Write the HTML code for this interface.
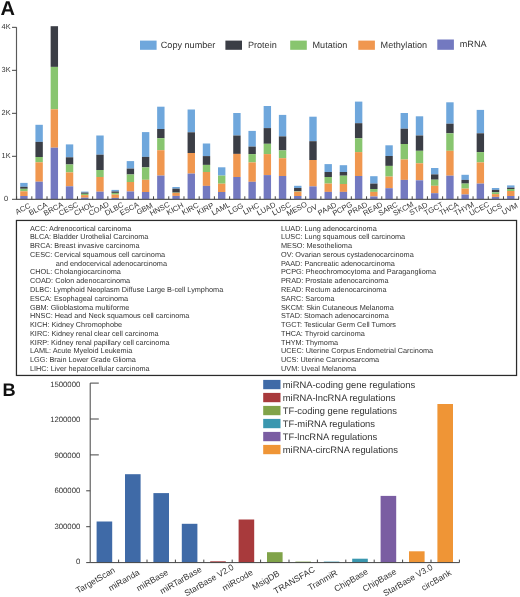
<!DOCTYPE html><html><head><meta charset="utf-8"><style>html,body{margin:0;padding:0;background:#fff;}svg{display:block;will-change:transform;}text{font-family:"Liberation Sans",sans-serif;fill:#333;text-rendering:geometricPrecision;}</style></head><body>
<svg width="520" height="597" viewBox="0 0 520 597">
<rect width="520" height="597" fill="#fff"/>
<text x="0.6" y="14.6" style="font-size:20px;font-weight:bold;fill:#111">A</text>
<rect x="20.21" y="182.90" width="7.4" height="3.90" fill="#6fa7dc"/>
<rect x="20.21" y="186.80" width="7.4" height="2.00" fill="#3b3e46"/>
<rect x="20.21" y="188.80" width="7.4" height="2.50" fill="#88c56f"/>
<rect x="20.21" y="191.30" width="7.4" height="4.70" fill="#f0974f"/>
<rect x="20.21" y="196.00" width="7.4" height="3.30" fill="#7379c0"/>
<rect x="35.42" y="124.80" width="7.4" height="17.10" fill="#6fa7dc"/>
<rect x="35.42" y="141.90" width="7.4" height="15.10" fill="#3b3e46"/>
<rect x="35.42" y="157.00" width="7.4" height="5.30" fill="#88c56f"/>
<rect x="35.42" y="162.30" width="7.4" height="19.40" fill="#f0974f"/>
<rect x="35.42" y="181.70" width="7.4" height="17.60" fill="#7379c0"/>
<rect x="50.64" y="26.20" width="7.4" height="40.70" fill="#3b3e46"/>
<rect x="50.64" y="66.90" width="7.4" height="42.40" fill="#88c56f"/>
<rect x="50.64" y="109.30" width="7.4" height="38.40" fill="#f0974f"/>
<rect x="50.64" y="147.70" width="7.4" height="51.60" fill="#7379c0"/>
<rect x="65.85" y="144.40" width="7.4" height="12.90" fill="#6fa7dc"/>
<rect x="65.85" y="157.30" width="7.4" height="7.20" fill="#3b3e46"/>
<rect x="65.85" y="164.50" width="7.4" height="7.90" fill="#88c56f"/>
<rect x="65.85" y="172.40" width="7.4" height="13.90" fill="#f0974f"/>
<rect x="65.85" y="186.30" width="7.4" height="13.00" fill="#7379c0"/>
<rect x="81.07" y="191.60" width="7.4" height="1.00" fill="#6fa7dc"/>
<rect x="81.07" y="192.60" width="7.4" height="1.20" fill="#3b3e46"/>
<rect x="81.07" y="193.80" width="7.4" height="1.30" fill="#88c56f"/>
<rect x="81.07" y="195.10" width="7.4" height="2.60" fill="#f0974f"/>
<rect x="81.07" y="197.70" width="7.4" height="1.60" fill="#7379c0"/>
<rect x="96.28" y="135.50" width="7.4" height="19.20" fill="#6fa7dc"/>
<rect x="96.28" y="154.70" width="7.4" height="15.30" fill="#3b3e46"/>
<rect x="96.28" y="170.00" width="7.4" height="7.00" fill="#88c56f"/>
<rect x="96.28" y="177.00" width="7.4" height="14.70" fill="#f0974f"/>
<rect x="96.28" y="191.70" width="7.4" height="7.60" fill="#7379c0"/>
<rect x="111.50" y="189.90" width="7.4" height="1.60" fill="#6fa7dc"/>
<rect x="111.50" y="191.50" width="7.4" height="1.40" fill="#3b3e46"/>
<rect x="111.50" y="192.90" width="7.4" height="1.70" fill="#88c56f"/>
<rect x="111.50" y="194.60" width="7.4" height="3.30" fill="#f0974f"/>
<rect x="111.50" y="197.90" width="7.4" height="1.40" fill="#7379c0"/>
<rect x="126.71" y="161.10" width="7.4" height="7.50" fill="#6fa7dc"/>
<rect x="126.71" y="168.60" width="7.4" height="5.90" fill="#3b3e46"/>
<rect x="126.71" y="174.50" width="7.4" height="7.50" fill="#88c56f"/>
<rect x="126.71" y="182.00" width="7.4" height="9.50" fill="#f0974f"/>
<rect x="126.71" y="191.50" width="7.4" height="7.80" fill="#7379c0"/>
<rect x="141.93" y="132.10" width="7.4" height="24.80" fill="#6fa7dc"/>
<rect x="141.93" y="156.90" width="7.4" height="10.50" fill="#3b3e46"/>
<rect x="141.93" y="167.40" width="7.4" height="12.40" fill="#88c56f"/>
<rect x="141.93" y="179.80" width="7.4" height="12.20" fill="#f0974f"/>
<rect x="141.93" y="192.00" width="7.4" height="7.30" fill="#7379c0"/>
<rect x="157.14" y="106.70" width="7.4" height="22.30" fill="#6fa7dc"/>
<rect x="157.14" y="129.00" width="7.4" height="9.20" fill="#3b3e46"/>
<rect x="157.14" y="138.20" width="7.4" height="12.00" fill="#88c56f"/>
<rect x="157.14" y="150.20" width="7.4" height="25.40" fill="#f0974f"/>
<rect x="157.14" y="175.60" width="7.4" height="23.70" fill="#7379c0"/>
<rect x="172.36" y="187.00" width="7.4" height="1.70" fill="#6fa7dc"/>
<rect x="172.36" y="188.70" width="7.4" height="3.90" fill="#3b3e46"/>
<rect x="172.36" y="192.60" width="7.4" height="0.30" fill="#88c56f"/>
<rect x="172.36" y="192.90" width="7.4" height="3.00" fill="#f0974f"/>
<rect x="172.36" y="195.90" width="7.4" height="3.40" fill="#7379c0"/>
<rect x="187.57" y="109.50" width="7.4" height="22.80" fill="#6fa7dc"/>
<rect x="187.57" y="132.30" width="7.4" height="20.70" fill="#3b3e46"/>
<rect x="187.57" y="153.00" width="7.4" height="20.60" fill="#f0974f"/>
<rect x="187.57" y="173.60" width="7.4" height="25.70" fill="#7379c0"/>
<rect x="202.79" y="143.50" width="7.4" height="12.60" fill="#6fa7dc"/>
<rect x="202.79" y="156.10" width="7.4" height="8.80" fill="#3b3e46"/>
<rect x="202.79" y="164.90" width="7.4" height="7.10" fill="#88c56f"/>
<rect x="202.79" y="172.00" width="7.4" height="13.90" fill="#f0974f"/>
<rect x="202.79" y="185.90" width="7.4" height="13.40" fill="#7379c0"/>
<rect x="218.00" y="167.30" width="7.4" height="8.30" fill="#6fa7dc"/>
<rect x="218.00" y="175.60" width="7.4" height="8.10" fill="#88c56f"/>
<rect x="218.00" y="183.70" width="7.4" height="8.30" fill="#f0974f"/>
<rect x="218.00" y="192.00" width="7.4" height="7.30" fill="#7379c0"/>
<rect x="233.22" y="113.00" width="7.4" height="22.50" fill="#6fa7dc"/>
<rect x="233.22" y="135.50" width="7.4" height="18.40" fill="#3b3e46"/>
<rect x="233.22" y="153.90" width="7.4" height="23.10" fill="#f0974f"/>
<rect x="233.22" y="177.00" width="7.4" height="22.30" fill="#7379c0"/>
<rect x="248.43" y="130.90" width="7.4" height="15.70" fill="#6fa7dc"/>
<rect x="248.43" y="146.60" width="7.4" height="7.50" fill="#3b3e46"/>
<rect x="248.43" y="154.10" width="7.4" height="8.30" fill="#88c56f"/>
<rect x="248.43" y="162.40" width="7.4" height="19.40" fill="#f0974f"/>
<rect x="248.43" y="181.80" width="7.4" height="17.50" fill="#7379c0"/>
<rect x="263.65" y="106.00" width="7.4" height="22.10" fill="#6fa7dc"/>
<rect x="263.65" y="128.10" width="7.4" height="15.70" fill="#3b3e46"/>
<rect x="263.65" y="143.80" width="7.4" height="10.30" fill="#88c56f"/>
<rect x="263.65" y="154.10" width="7.4" height="21.00" fill="#f0974f"/>
<rect x="263.65" y="175.10" width="7.4" height="24.20" fill="#7379c0"/>
<rect x="278.86" y="114.90" width="7.4" height="21.50" fill="#6fa7dc"/>
<rect x="278.86" y="136.40" width="7.4" height="14.00" fill="#3b3e46"/>
<rect x="278.86" y="150.40" width="7.4" height="7.80" fill="#88c56f"/>
<rect x="278.86" y="158.20" width="7.4" height="17.80" fill="#f0974f"/>
<rect x="278.86" y="176.00" width="7.4" height="23.30" fill="#7379c0"/>
<rect x="294.08" y="185.80" width="7.4" height="2.20" fill="#6fa7dc"/>
<rect x="294.08" y="188.00" width="7.4" height="3.30" fill="#3b3e46"/>
<rect x="294.08" y="191.30" width="7.4" height="0.40" fill="#88c56f"/>
<rect x="294.08" y="191.70" width="7.4" height="4.30" fill="#f0974f"/>
<rect x="294.08" y="196.00" width="7.4" height="3.30" fill="#7379c0"/>
<rect x="309.29" y="116.70" width="7.4" height="24.50" fill="#6fa7dc"/>
<rect x="309.29" y="141.20" width="7.4" height="18.80" fill="#3b3e46"/>
<rect x="309.29" y="160.00" width="7.4" height="26.40" fill="#f0974f"/>
<rect x="309.29" y="186.40" width="7.4" height="12.90" fill="#7379c0"/>
<rect x="324.51" y="164.10" width="7.4" height="7.90" fill="#6fa7dc"/>
<rect x="324.51" y="172.00" width="7.4" height="5.00" fill="#3b3e46"/>
<rect x="324.51" y="177.00" width="7.4" height="6.60" fill="#88c56f"/>
<rect x="324.51" y="183.60" width="7.4" height="8.30" fill="#f0974f"/>
<rect x="324.51" y="191.90" width="7.4" height="7.40" fill="#7379c0"/>
<rect x="339.72" y="165.20" width="7.4" height="6.80" fill="#6fa7dc"/>
<rect x="339.72" y="172.00" width="7.4" height="3.70" fill="#3b3e46"/>
<rect x="339.72" y="175.70" width="7.4" height="8.30" fill="#88c56f"/>
<rect x="339.72" y="184.00" width="7.4" height="7.90" fill="#f0974f"/>
<rect x="339.72" y="191.90" width="7.4" height="7.40" fill="#7379c0"/>
<rect x="354.94" y="101.60" width="7.4" height="21.60" fill="#6fa7dc"/>
<rect x="354.94" y="123.20" width="7.4" height="15.10" fill="#3b3e46"/>
<rect x="354.94" y="138.30" width="7.4" height="13.80" fill="#88c56f"/>
<rect x="354.94" y="152.10" width="7.4" height="23.90" fill="#f0974f"/>
<rect x="354.94" y="176.00" width="7.4" height="23.30" fill="#7379c0"/>
<rect x="370.15" y="176.20" width="7.4" height="7.40" fill="#6fa7dc"/>
<rect x="370.15" y="183.60" width="7.4" height="5.40" fill="#3b3e46"/>
<rect x="370.15" y="189.00" width="7.4" height="2.90" fill="#88c56f"/>
<rect x="370.15" y="191.90" width="7.4" height="4.60" fill="#f0974f"/>
<rect x="370.15" y="196.50" width="7.4" height="2.80" fill="#7379c0"/>
<rect x="385.37" y="145.30" width="7.4" height="10.70" fill="#6fa7dc"/>
<rect x="385.37" y="156.00" width="7.4" height="9.90" fill="#3b3e46"/>
<rect x="385.37" y="165.90" width="7.4" height="10.70" fill="#88c56f"/>
<rect x="385.37" y="176.60" width="7.4" height="11.60" fill="#f0974f"/>
<rect x="385.37" y="188.20" width="7.4" height="11.10" fill="#7379c0"/>
<rect x="400.58" y="113.00" width="7.4" height="15.70" fill="#6fa7dc"/>
<rect x="400.58" y="128.70" width="7.4" height="15.30" fill="#3b3e46"/>
<rect x="400.58" y="144.00" width="7.4" height="15.50" fill="#88c56f"/>
<rect x="400.58" y="159.50" width="7.4" height="20.40" fill="#f0974f"/>
<rect x="400.58" y="179.90" width="7.4" height="19.40" fill="#7379c0"/>
<rect x="415.80" y="116.30" width="7.4" height="19.20" fill="#6fa7dc"/>
<rect x="415.80" y="135.50" width="7.4" height="15.30" fill="#3b3e46"/>
<rect x="415.80" y="150.80" width="7.4" height="12.50" fill="#88c56f"/>
<rect x="415.80" y="163.30" width="7.4" height="17.00" fill="#f0974f"/>
<rect x="415.80" y="180.30" width="7.4" height="19.00" fill="#7379c0"/>
<rect x="431.01" y="168.00" width="7.4" height="6.40" fill="#6fa7dc"/>
<rect x="431.01" y="174.40" width="7.4" height="5.30" fill="#3b3e46"/>
<rect x="431.01" y="179.70" width="7.4" height="6.10" fill="#88c56f"/>
<rect x="431.01" y="185.80" width="7.4" height="7.40" fill="#f0974f"/>
<rect x="431.01" y="193.20" width="7.4" height="6.10" fill="#7379c0"/>
<rect x="446.23" y="102.30" width="7.4" height="21.40" fill="#6fa7dc"/>
<rect x="446.23" y="123.70" width="7.4" height="9.60" fill="#3b3e46"/>
<rect x="446.23" y="133.30" width="7.4" height="17.50" fill="#88c56f"/>
<rect x="446.23" y="150.80" width="7.4" height="24.90" fill="#f0974f"/>
<rect x="446.23" y="175.70" width="7.4" height="23.60" fill="#7379c0"/>
<rect x="461.44" y="174.80" width="7.4" height="5.10" fill="#6fa7dc"/>
<rect x="461.44" y="179.90" width="7.4" height="3.70" fill="#3b3e46"/>
<rect x="461.44" y="183.60" width="7.4" height="5.00" fill="#88c56f"/>
<rect x="461.44" y="188.60" width="7.4" height="5.90" fill="#f0974f"/>
<rect x="461.44" y="194.50" width="7.4" height="4.80" fill="#7379c0"/>
<rect x="476.66" y="109.90" width="7.4" height="23.40" fill="#6fa7dc"/>
<rect x="476.66" y="133.30" width="7.4" height="18.80" fill="#3b3e46"/>
<rect x="476.66" y="152.10" width="7.4" height="10.30" fill="#88c56f"/>
<rect x="476.66" y="162.40" width="7.4" height="21.20" fill="#f0974f"/>
<rect x="476.66" y="183.60" width="7.4" height="15.70" fill="#7379c0"/>
<rect x="491.87" y="188.00" width="7.4" height="1.90" fill="#6fa7dc"/>
<rect x="491.87" y="189.90" width="7.4" height="2.40" fill="#3b3e46"/>
<rect x="491.87" y="192.30" width="7.4" height="1.80" fill="#88c56f"/>
<rect x="491.87" y="194.10" width="7.4" height="2.80" fill="#f0974f"/>
<rect x="491.87" y="196.90" width="7.4" height="2.40" fill="#7379c0"/>
<rect x="507.09" y="185.40" width="7.4" height="2.30" fill="#6fa7dc"/>
<rect x="507.09" y="187.70" width="7.4" height="1.30" fill="#3b3e46"/>
<rect x="507.09" y="189.00" width="7.4" height="2.00" fill="#88c56f"/>
<rect x="507.09" y="191.00" width="7.4" height="5.00" fill="#f0974f"/>
<rect x="507.09" y="196.00" width="7.4" height="3.30" fill="#7379c0"/>
<path d="M16.5 27.34 V199.3 H519" fill="none" stroke="#5a5a5a" stroke-width="1.15"/>
<path d="M12 199.30 H16.5" stroke="#444" stroke-width="1"/>
<text x="6.1" y="201.40" text-anchor="middle" style="font-size:7.4px">0</text>
<path d="M12 156.31 H16.5" stroke="#444" stroke-width="1"/>
<text x="6.1" y="158.41" text-anchor="middle" style="font-size:7.4px">1K</text>
<path d="M12 113.32 H16.5" stroke="#444" stroke-width="1"/>
<text x="6.1" y="115.42" text-anchor="middle" style="font-size:7.4px">2K</text>
<path d="M12 70.33 H16.5" stroke="#444" stroke-width="1"/>
<text x="6.1" y="72.43" text-anchor="middle" style="font-size:7.4px">3K</text>
<path d="M12 27.34 H16.5" stroke="#444" stroke-width="1"/>
<text x="6.1" y="29.44" text-anchor="middle" style="font-size:7.4px">4K</text>
<path d="M16.60 199.3 V196.3" stroke="#444" stroke-width="1"/>
<path d="M31.82 199.3 V196.3" stroke="#444" stroke-width="1"/>
<path d="M47.03 199.3 V196.3" stroke="#444" stroke-width="1"/>
<path d="M62.24 199.3 V196.3" stroke="#444" stroke-width="1"/>
<path d="M77.46 199.3 V196.3" stroke="#444" stroke-width="1"/>
<path d="M92.68 199.3 V196.3" stroke="#444" stroke-width="1"/>
<path d="M107.89 199.3 V196.3" stroke="#444" stroke-width="1"/>
<path d="M123.10 199.3 V196.3" stroke="#444" stroke-width="1"/>
<path d="M138.32 199.3 V196.3" stroke="#444" stroke-width="1"/>
<path d="M153.53 199.3 V196.3" stroke="#444" stroke-width="1"/>
<path d="M168.75 199.3 V196.3" stroke="#444" stroke-width="1"/>
<path d="M183.97 199.3 V196.3" stroke="#444" stroke-width="1"/>
<path d="M199.18 199.3 V196.3" stroke="#444" stroke-width="1"/>
<path d="M214.39 199.3 V196.3" stroke="#444" stroke-width="1"/>
<path d="M229.61 199.3 V196.3" stroke="#444" stroke-width="1"/>
<path d="M244.82 199.3 V196.3" stroke="#444" stroke-width="1"/>
<path d="M260.04 199.3 V196.3" stroke="#444" stroke-width="1"/>
<path d="M275.25 199.3 V196.3" stroke="#444" stroke-width="1"/>
<path d="M290.47 199.3 V196.3" stroke="#444" stroke-width="1"/>
<path d="M305.69 199.3 V196.3" stroke="#444" stroke-width="1"/>
<path d="M320.90 199.3 V196.3" stroke="#444" stroke-width="1"/>
<path d="M336.12 199.3 V196.3" stroke="#444" stroke-width="1"/>
<path d="M351.33 199.3 V196.3" stroke="#444" stroke-width="1"/>
<path d="M366.55 199.3 V196.3" stroke="#444" stroke-width="1"/>
<path d="M381.76 199.3 V196.3" stroke="#444" stroke-width="1"/>
<path d="M396.98 199.3 V196.3" stroke="#444" stroke-width="1"/>
<path d="M412.19 199.3 V196.3" stroke="#444" stroke-width="1"/>
<path d="M427.41 199.3 V196.3" stroke="#444" stroke-width="1"/>
<path d="M442.62 199.3 V196.3" stroke="#444" stroke-width="1"/>
<path d="M457.84 199.3 V196.3" stroke="#444" stroke-width="1"/>
<path d="M473.05 199.3 V196.3" stroke="#444" stroke-width="1"/>
<path d="M488.27 199.3 V196.3" stroke="#444" stroke-width="1"/>
<path d="M503.48 199.3 V196.3" stroke="#444" stroke-width="1"/>
<path d="M518.69 199.3 V196.3" stroke="#444" stroke-width="1"/>
<text transform="translate(24.01,211.00) rotate(-28)" text-anchor="middle" style="font-size:7.5px">ACC</text>
<text transform="translate(39.22,211.00) rotate(-28)" text-anchor="middle" style="font-size:7.5px">BLCA</text>
<text transform="translate(54.44,211.00) rotate(-28)" text-anchor="middle" style="font-size:7.5px">BRCA</text>
<text transform="translate(69.65,211.00) rotate(-28)" text-anchor="middle" style="font-size:7.5px">CESC</text>
<text transform="translate(84.87,211.00) rotate(-28)" text-anchor="middle" style="font-size:7.5px">CHOL</text>
<text transform="translate(100.08,211.00) rotate(-28)" text-anchor="middle" style="font-size:7.5px">COAD</text>
<text transform="translate(115.30,211.00) rotate(-28)" text-anchor="middle" style="font-size:7.5px">DLBC</text>
<text transform="translate(130.51,211.00) rotate(-28)" text-anchor="middle" style="font-size:7.5px">ESCA</text>
<text transform="translate(145.73,211.00) rotate(-28)" text-anchor="middle" style="font-size:7.5px">GBM</text>
<text transform="translate(160.94,211.00) rotate(-28)" text-anchor="middle" style="font-size:7.5px">HNSC</text>
<text transform="translate(176.16,211.00) rotate(-28)" text-anchor="middle" style="font-size:7.5px">KICH</text>
<text transform="translate(191.37,211.00) rotate(-28)" text-anchor="middle" style="font-size:7.5px">KIRC</text>
<text transform="translate(206.59,211.00) rotate(-28)" text-anchor="middle" style="font-size:7.5px">KIRP</text>
<text transform="translate(221.80,211.00) rotate(-28)" text-anchor="middle" style="font-size:7.5px">LAML</text>
<text transform="translate(237.02,211.00) rotate(-28)" text-anchor="middle" style="font-size:7.5px">LGG</text>
<text transform="translate(252.23,211.00) rotate(-28)" text-anchor="middle" style="font-size:7.5px">LIHC</text>
<text transform="translate(267.45,211.00) rotate(-28)" text-anchor="middle" style="font-size:7.5px">LUAD</text>
<text transform="translate(282.66,211.00) rotate(-28)" text-anchor="middle" style="font-size:7.5px">LUSC</text>
<text transform="translate(297.88,211.00) rotate(-28)" text-anchor="middle" style="font-size:7.5px">MESO</text>
<text transform="translate(313.09,211.00) rotate(-28)" text-anchor="middle" style="font-size:7.5px">OV</text>
<text transform="translate(328.31,211.00) rotate(-28)" text-anchor="middle" style="font-size:7.5px">PAAD</text>
<text transform="translate(343.52,211.00) rotate(-28)" text-anchor="middle" style="font-size:7.5px">PCPG</text>
<text transform="translate(358.74,211.00) rotate(-28)" text-anchor="middle" style="font-size:7.5px">PRAD</text>
<text transform="translate(373.95,211.00) rotate(-28)" text-anchor="middle" style="font-size:7.5px">READ</text>
<text transform="translate(389.17,211.00) rotate(-28)" text-anchor="middle" style="font-size:7.5px">SARC</text>
<text transform="translate(404.38,211.00) rotate(-28)" text-anchor="middle" style="font-size:7.5px">SKCM</text>
<text transform="translate(419.60,211.00) rotate(-28)" text-anchor="middle" style="font-size:7.5px">STAD</text>
<text transform="translate(434.81,211.00) rotate(-28)" text-anchor="middle" style="font-size:7.5px">TGCT</text>
<text transform="translate(450.03,211.00) rotate(-28)" text-anchor="middle" style="font-size:7.5px">THCA</text>
<text transform="translate(465.24,211.00) rotate(-28)" text-anchor="middle" style="font-size:7.5px">THYM</text>
<text transform="translate(480.46,211.00) rotate(-28)" text-anchor="middle" style="font-size:7.5px">UCEC</text>
<text transform="translate(495.67,211.00) rotate(-28)" text-anchor="middle" style="font-size:7.5px">UCS</text>
<text transform="translate(510.89,211.00) rotate(-28)" text-anchor="middle" style="font-size:7.5px">UVM</text>
<rect x="140.0" y="40.6" width="16.6" height="9.2" fill="#6fa7dc"/>
<text x="160.8" y="48.4" style="font-size:9.1px">Copy number</text>
<rect x="225.4" y="40.6" width="16.6" height="9.2" fill="#3b3e46"/>
<text x="247.9" y="48.4" style="font-size:9.1px">Protein</text>
<rect x="290.2" y="40.6" width="16.6" height="9.2" fill="#88c56f"/>
<text x="312.5" y="48.4" style="font-size:9.1px">Mutation</text>
<rect x="358.3" y="40.6" width="16.6" height="9.2" fill="#f0974f"/>
<text x="380.6" y="48.4" style="font-size:9.1px">Methylation</text>
<rect x="437.3" y="39.5" width="16.6" height="10.3" fill="#7379c0"/>
<text x="459.8" y="47.1" style="font-size:9.1px">mRNA</text>
<rect x="16.45" y="220.45" width="500.1" height="155" fill="none" stroke="#2b2b2b" stroke-width="1.25"/>
<text x="30" y="230.60" style="font-size:7.3px">ACC: Adrenocortical carcinoma</text>
<text x="30" y="239.37" style="font-size:7.3px">BLCA: Bladder Urothelial Carcinoma</text>
<text x="30" y="248.14" style="font-size:7.3px">BRCA: Breast invasive carcinoma</text>
<text x="30" y="256.91" style="font-size:7.3px">CESC: Cervical squamous cell carcinoma</text>
<text x="55.8" y="265.68" style="font-size:7.3px">and endocervical adenocarcinoma</text>
<text x="30" y="274.45" style="font-size:7.3px">CHOL: Cholangiocarcinoma</text>
<text x="30" y="283.22" style="font-size:7.3px">COAD: Colon adenocarcinoma</text>
<text x="30" y="291.99" style="font-size:7.3px">DLBC: Lymphoid Neoplasm Diffuse Large B-cell Lymphoma</text>
<text x="30" y="300.76" style="font-size:7.3px">ESCA: Esophageal carcinoma</text>
<text x="30" y="309.53" style="font-size:7.3px">GBM: Glioblastoma multiforme</text>
<text x="30" y="318.30" style="font-size:7.3px">HNSC: Head and Neck squamous cell carcinoma</text>
<text x="30" y="327.07" style="font-size:7.3px">KICH: Kidney Chromophobe</text>
<text x="30" y="335.84" style="font-size:7.3px">KIRC: Kidney renal clear cell carcinoma</text>
<text x="30" y="344.61" style="font-size:7.3px">KIRP: Kidney renal papillary cell carcinoma</text>
<text x="30" y="353.38" style="font-size:7.3px">LAML: Acute Myeloid Leukemia</text>
<text x="30" y="362.15" style="font-size:7.3px">LGG: Brain Lower Grade Glioma</text>
<text x="30" y="370.92" style="font-size:7.3px">LIHC: Liver hepatocellular carcinoma</text>
<text x="281" y="230.60" style="font-size:7.3px">LUAD: Lung adenocarcinoma</text>
<text x="281" y="239.37" style="font-size:7.3px">LUSC: Lung squamous cell carcinoma</text>
<text x="281" y="248.14" style="font-size:7.3px">MESO: Mesothelioma</text>
<text x="281" y="256.91" style="font-size:7.3px">OV: Ovarian serous cystadenocarcinoma</text>
<text x="281" y="265.68" style="font-size:7.3px">PAAD: Pancreatic adenocarcinoma</text>
<text x="281" y="274.45" style="font-size:7.3px">PCPG: Pheochromocytoma and Paraganglioma</text>
<text x="281" y="283.22" style="font-size:7.3px">PRAD: Prostate adenocarcinoma</text>
<text x="281" y="291.99" style="font-size:7.3px">READ: Rectum adenocarcinoma</text>
<text x="281" y="300.76" style="font-size:7.3px">SARC: Sarcoma</text>
<text x="281" y="309.53" style="font-size:7.3px">SKCM: Skin Cutaneous Melanoma</text>
<text x="281" y="318.30" style="font-size:7.3px">STAD: Stomach adenocarcinoma</text>
<text x="281" y="327.07" style="font-size:7.3px">TGCT: Testicular Germ Cell Tumors</text>
<text x="281" y="335.84" style="font-size:7.3px">THCA: Thyroid carcinoma</text>
<text x="281" y="344.61" style="font-size:7.3px">THYM: Thymoma</text>
<text x="281" y="353.38" style="font-size:7.3px">UCEC: Uterine Corpus Endometrial Carcinoma</text>
<text x="281" y="362.15" style="font-size:7.3px">UCS: Uterine Carcinosarcoma</text>
<text x="281" y="370.92" style="font-size:7.3px">UVM: Uveal Melanoma</text>
<text x="2.5" y="395.6" style="font-size:18.2px;font-weight:bold;fill:#111">B</text>
<rect x="96.60" y="521.5" width="15.6" height="41.10" fill="#3f6aa7"/>
<rect x="125.00" y="474.2" width="15.6" height="88.40" fill="#3f6aa7"/>
<rect x="153.40" y="493.1" width="15.6" height="69.50" fill="#3f6aa7"/>
<rect x="181.80" y="523.8" width="15.6" height="38.80" fill="#3f6aa7"/>
<rect x="210.20" y="561.3" width="15.6" height="1.30" fill="#a83a3c"/>
<rect x="238.60" y="519.5" width="15.6" height="43.10" fill="#a83a3c"/>
<rect x="267.00" y="552.2" width="15.6" height="10.40" fill="#80a349"/>
<rect x="295.40" y="561.6" width="15.6" height="1.00" fill="#80a349"/>
<rect x="323.80" y="561.6" width="15.6" height="1.00" fill="#3a97af"/>
<rect x="352.20" y="558.7" width="15.6" height="3.90" fill="#3a97af"/>
<rect x="380.60" y="495.9" width="15.6" height="66.70" fill="#7a5da2"/>
<rect x="409.00" y="551.3" width="15.6" height="11.30" fill="#ef9536"/>
<rect x="437.40" y="404.0" width="15.6" height="158.60" fill="#ef9536"/>
<path d="M90.2 383.10 V562.6 H459.4" fill="none" stroke="#444" stroke-width="1"/>
<path d="M86.2 562.60 H90.2" stroke="#444" stroke-width="1"/>
<text x="80.3" y="563.97" text-anchor="end" style="font-size:7.75px">0</text>
<path d="M86.2 526.70 H90.2" stroke="#444" stroke-width="1"/>
<text x="80.3" y="528.59" text-anchor="end" style="font-size:7.75px">300000</text>
<path d="M86.2 490.80 H90.2" stroke="#444" stroke-width="1"/>
<text x="80.3" y="493.21" text-anchor="end" style="font-size:7.75px">600000</text>
<path d="M90.2 454.90 H98.8" stroke="#444" stroke-width="1"/>
<text x="80.3" y="457.83" text-anchor="end" style="font-size:7.75px">900000</text>
<path d="M90.2 419.00 H98.8" stroke="#444" stroke-width="1"/>
<text x="80.3" y="422.45" text-anchor="end" style="font-size:7.75px">1200000</text>
<path d="M90.2 383.10 H98.8" stroke="#444" stroke-width="1"/>
<text x="80.3" y="387.07" text-anchor="end" style="font-size:7.75px">1500000</text>
<path d="M118.60 562.6 V559.6" stroke="#444" stroke-width="1"/>
<path d="M147.00 562.6 V559.6" stroke="#444" stroke-width="1"/>
<path d="M175.40 562.6 V559.6" stroke="#444" stroke-width="1"/>
<path d="M203.80 562.6 V559.6" stroke="#444" stroke-width="1"/>
<path d="M232.20 562.6 V559.6" stroke="#444" stroke-width="1"/>
<path d="M260.60 562.6 V559.6" stroke="#444" stroke-width="1"/>
<path d="M289.00 562.6 V559.6" stroke="#444" stroke-width="1"/>
<path d="M317.40 562.6 V559.6" stroke="#444" stroke-width="1"/>
<path d="M345.80 562.6 V559.6" stroke="#444" stroke-width="1"/>
<path d="M374.20 562.6 V559.6" stroke="#444" stroke-width="1"/>
<path d="M402.60 562.6 V559.6" stroke="#444" stroke-width="1"/>
<path d="M431.00 562.6 V559.6" stroke="#444" stroke-width="1"/>
<path d="M459.40 562.6 V559.6" stroke="#444" stroke-width="1"/>
<text transform="translate(96.90,582.70) rotate(-30)" text-anchor="middle" style="font-size:8.6px">TargetScan</text>
<text transform="translate(125.30,582.70) rotate(-30)" text-anchor="middle" style="font-size:8.6px">miRanda</text>
<text transform="translate(153.70,582.70) rotate(-30)" text-anchor="middle" style="font-size:8.6px">miRBase</text>
<text transform="translate(182.10,582.70) rotate(-30)" text-anchor="middle" style="font-size:8.6px">miRTarBase</text>
<text transform="translate(210.50,582.70) rotate(-30)" text-anchor="middle" style="font-size:8.6px">StarBase V2.0</text>
<text transform="translate(238.90,582.70) rotate(-30)" text-anchor="middle" style="font-size:8.6px">miRcode</text>
<text transform="translate(267.30,582.70) rotate(-30)" text-anchor="middle" style="font-size:8.6px">MsigDB</text>
<text transform="translate(295.70,582.70) rotate(-30)" text-anchor="middle" style="font-size:8.6px">TRANSFAC</text>
<text transform="translate(324.10,582.70) rotate(-30)" text-anchor="middle" style="font-size:8.6px">TranmiR</text>
<text transform="translate(352.50,582.70) rotate(-30)" text-anchor="middle" style="font-size:8.6px">ChipBase</text>
<text transform="translate(380.90,582.70) rotate(-30)" text-anchor="middle" style="font-size:8.6px">ChipBase</text>
<text transform="translate(409.30,582.70) rotate(-30)" text-anchor="middle" style="font-size:8.6px">StarBase V3.0</text>
<text transform="translate(437.70,582.70) rotate(-30)" text-anchor="middle" style="font-size:8.6px">circBank</text>
<rect x="263.2" y="379.90" width="17.3" height="9.3" fill="#3f6aa7"/>
<text x="282.8" y="388.30" style="font-size:9.4px">miRNA-coding gene regulations</text>
<rect x="263.2" y="392.90" width="17.3" height="9.3" fill="#a83a3c"/>
<text x="282.8" y="401.30" style="font-size:9.4px">miRNA-lncRNA regulations</text>
<rect x="263.2" y="405.90" width="17.3" height="9.3" fill="#80a349"/>
<text x="282.8" y="414.30" style="font-size:9.4px">TF-coding gene regulations</text>
<rect x="263.2" y="418.90" width="17.3" height="9.3" fill="#3a97af"/>
<text x="282.8" y="427.30" style="font-size:9.4px">TF-miRNA regulations</text>
<rect x="263.2" y="431.90" width="17.3" height="9.3" fill="#7a5da2"/>
<text x="282.8" y="440.30" style="font-size:9.4px">TF-lncRNA regulations</text>
<rect x="263.2" y="444.90" width="17.3" height="9.3" fill="#ef9536"/>
<text x="282.8" y="453.30" style="font-size:9.4px">miRNA-circRNA regulations</text>
</svg></body></html>
